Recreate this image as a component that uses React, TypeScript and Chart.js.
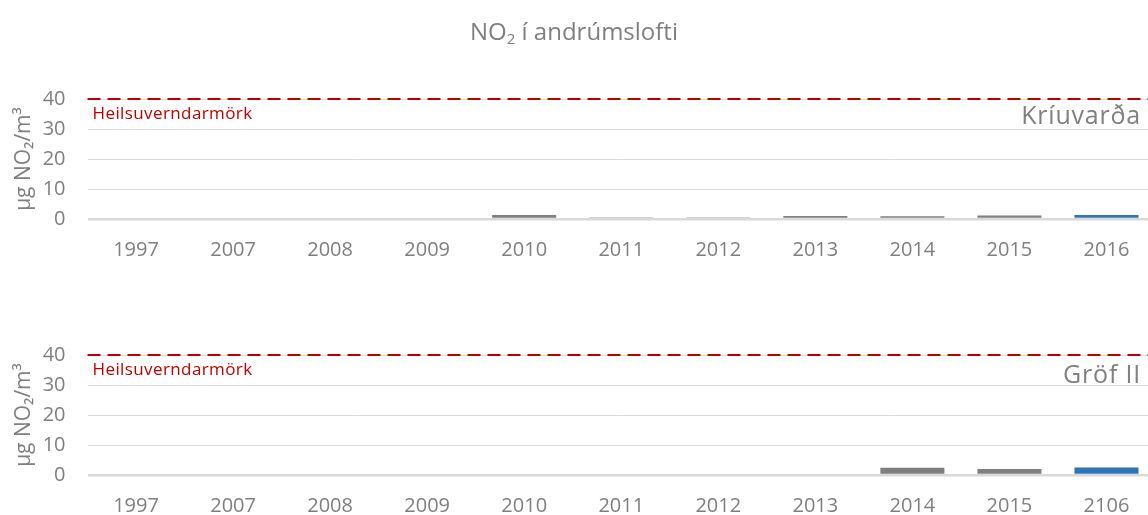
import React, { useEffect, useRef } from "react";
import { Chart, registerables } from "chart.js";
Chart.register(...registerables);

const titleMain = "í andrúmslofti";
const yAxisTitle = "µg NO₂/m³";
const limitValue = 40;
const limitLabel = "Heilsuverndarmörk";
const yTicks = [0, 10, 20, 30, 40];

const stationTop = "Kríuvarða";
const categoriesTop = ["1997", "2007", "2008", "2009", "2010", "2011", "2012", "2013", "2014", "2015", "2016"];
const valuesTop = [0, 0, 0, 0, 1.3, 0.6, 0.6, 1.0, 0.9, 1.2, 1.3];

const stationBottom = "Gröf II";
const categoriesBottom = ["1997", "2007", "2008", "2009", "2010", "2011", "2012", "2013", "2014", "2015", "2106"];
const valuesBottom = [0, 0, 0, 0, 0, 0, 0, 0, 2.4, 2.0, 2.5];

const GRAY = "#7f7f7f";
const BLUE = "#2e75b6";
const RED = "#c00000";
const FONT = '"Open Sans", "DejaVu Sans", sans-serif';

function makeConfig(labels: string[], values: number[], station: string, padTop: number, padBottom: number, stationOffset: number): any {
  const colors = values.map((v, i) => (i === values.length - 1 ? BLUE : v < 0.8 ? "#a6a6a6" : GRAY));
  const refPlugin = {
    id: "refLine",
    afterDatasetsDraw(chart: any) {
      const { ctx, chartArea, scales } = chart;
      const y = scales.y.getPixelForValue(limitValue);
      ctx.save();
      ctx.strokeStyle = RED;
      ctx.lineWidth = 2;
      ctx.setLineDash([13, 7]);
      ctx.beginPath();
      ctx.moveTo(chartArea.left, y);
      ctx.lineTo(chartArea.right, y);
      ctx.stroke();
      ctx.setLineDash([]);
      ctx.fillStyle = RED;
      ctx.font = `17px ${FONT}`;
      ctx.textAlign = "left";
      ctx.textBaseline = "alphabetic";
      try { (ctx as any).letterSpacing = "0.4px"; } catch (e) {}
      ctx.fillText(limitLabel, chartArea.left + 5, y + 20);
      const y30 = scales.y.getPixelForValue(30);
      ctx.fillStyle = "#808080";
      ctx.font = `25px ${FONT}`;
      ctx.textAlign = "right";
      try { (ctx as any).letterSpacing = "0.8px"; } catch (e) {}
      ctx.fillText(station, 1141, y30 + stationOffset);
      ctx.restore();
    },
  };
  return {
    type: "bar",
    data: {
      labels,
      datasets: [
        {
          data: values,
          backgroundColor: colors,
          borderWidth: 0,
          categoryPercentage: 1,
          barPercentage: 0.66,
        },
      ],
    },
    options: {
      animation: false,
      responsive: false,
      maintainAspectRatio: false,
      devicePixelRatio: 1,
      layout: { padding: { top: padTop, bottom: padBottom, left: 0, right: 0 } },
      plugins: { legend: { display: false }, tooltip: { enabled: false }, title: { display: false } },
      scales: {
        x: {
          offset: true,
          grid: { display: false, drawTicks: false },
          border: { display: false },
          ticks: { color: GRAY, font: { family: FONT, size: 20 }, padding: 19, maxRotation: 0, autoSkip: false },
          afterFit: (s: any) => { s.height = 38; },
        },
        y: {
          min: 0,
          max: 40,
          afterBuildTicks: (s: any) => { s.ticks = yTicks.map((v) => ({ value: v })); },
          grid: {
            color: "#d9d9d9",
            lineWidth: (c: any) => (c.tick && c.tick.value === 0 ? 2.5 : 1),
            drawTicks: false,
          },
          border: { display: false },
          ticks: { color: GRAY, font: { family: FONT, size: 20 }, padding: 22 },
          title: { display: true, text: yAxisTitle, color: GRAY, font: { family: FONT, size: 21 }, padding: { top: 11, bottom: 0 } },
          afterFit: (s: any) => { s.width = 87.5; },
        },
      },
    },
    plugins: [refPlugin],
  };
}

export default function App() {
  const topRef = useRef<HTMLCanvasElement>(null);
  const botRef = useRef<HTMLCanvasElement>(null);
  useEffect(() => {
    const c1 = new Chart(topRef.current as HTMLCanvasElement, makeConfig(categoriesTop, valuesTop, stationTop, 99, 23, -5));
    const c2 = new Chart(botRef.current as HTMLCanvasElement, makeConfig(categoriesBottom, valuesBottom, stationBottom, 75, 2, -2));
    return () => { c1.destroy(); c2.destroy(); };
  }, []);
  return (
    <div style={{ position: "fixed", left: 0, top: 0, width: 1148, height: 515, overflow: "hidden", background: "#fff" }}>
      <div style={{ position: "absolute", left: 0, top: 15, width: 1148, textAlign: "center", fontFamily: FONT, fontSize: 24, color: "#7f7f7f", lineHeight: "32px", zIndex: 2 }}>
        NO<sub style={{ fontSize: 15, verticalAlign: "-4px", lineHeight: 0 }}>2</sub> {titleMain}
      </div>
      <canvas ref={topRef} width={1155} height={280} style={{ position: "absolute", left: 0, top: 0, width: 1155, height: 280 }} />
      <canvas ref={botRef} width={1155} height={235} style={{ position: "absolute", left: 0, top: 280, width: 1155, height: 235 }} />
    </div>
  );
}
